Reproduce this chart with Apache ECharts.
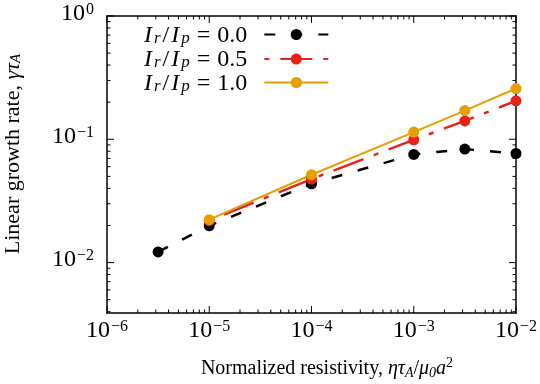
<!DOCTYPE html>
<html>
<head>
<meta charset="utf-8">
<script src="https://cdn.jsdelivr.net/npm/echarts@6/dist/echarts.min.js"></script>
<style>
  html, body { margin: 0; padding: 0; background: #fff; }
  #main { width: 540px; height: 384px; }
</style>
</head>
<body>
<div id="main"></div>
<script>
// resistivity values (x) and growth rates (y)
var etaR00 = [3.16e-6, 1e-5, 1e-4, 1e-3, 3.16e-3, 1e-2];
var gammaR00 = [0.0122, 0.0199, 0.0436, 0.0753, 0.0833, 0.0767];

var etaR05 = [1e-5, 1e-4, 1e-3, 3.16e-3, 1e-2];
var gammaR05 = [0.0219, 0.0476, 0.099, 0.141, 0.205];

var etaR10 = [1e-5, 1e-4, 1e-3, 3.16e-3, 1e-2];
var gammaR10 = [0.0223, 0.0516, 0.1144, 0.171, 0.258];

var ratios = ['0.0', '0.5', '1.0'];
var colors = ['#000000', '#e8221b', '#e69f00'];

// decades shown on the axes (exponents of 10)
var xDecades = [-6, -5, -4, -3, -2];
var yDecades = [-2, -1, 0];
var xMin = 1e-6, xMax = 1e-2;
var yMin = 0.0039, yMax = 1;

// both axes are logarithmic: positions are log10 of the values
var lg = function (v) { return Math.log10(v); };

// minor ticks 2..9 x 10^n, in log space
function minorTicks(lo, hi) {
    var out = [];
    for (var n = -7; n <= 1; n++) {
        for (var k = 2; k <= 9; k++) {
            var v = k * Math.pow(10, n);
            if (v > lo && v < hi) out.push(lg(v));
        }
    }
    return out;
}

function pairs(xs, ys) {
    var d = [];
    for (var i = 0; i < xs.length; i++) d.push([lg(xs[i]), lg(ys[i])]);
    return d;
}

var xMinor = minorTicks(xMin, xMax);
var yMinor = minorTicks(yMin, yMax);

// tick rows for the mirrored inside ticks: [x, y, length]
var xTickData = [], yTickData = [];
xDecades.forEach(function (v) { xTickData.push([v, lg(yMin), 7]); });
xMinor.forEach(function (v) { xTickData.push([v, lg(yMin), 3.5]); });
yDecades.forEach(function (v) { yTickData.push([lg(xMin), v, 7]); });
yMinor.forEach(function (v) { yTickData.push([lg(xMin), v, 3.5]); });

var FONT = 'Liberation Serif';

function powLabel(v) {
    var e = Math.round(v);
    var s = e < 0 ? '\u2212' + (-e) : '' + e;
    return '{b|10}{s|' + s + '}';
}
var powRich = {
    b: { fontFamily: FONT, fontSize: 24, lineHeight: 24, verticalAlign: 'bottom', color: '#000' },
    s: { fontFamily: FONT, fontSize: 16, lineHeight: 16, verticalAlign: 'top', padding: [0, 0, 13, 1], color: '#000' }
};

var blackLine = { color: '#000', width: 1.5 };

function logAxis(pos, labelOpt) {
    var vertical = pos === 'left' || pos === 'right';
    return {
        type: 'value',
        position: pos,
        min: vertical ? lg(yMin) : lg(xMin),
        max: vertical ? lg(yMax) : lg(xMax),
        axisLine: { show: true, onZero: false, lineStyle: blackLine },
        axisTick: { show: false },
        axisLabel: labelOpt || { show: false },
        splitLine: { show: false }
    };
}

var xLabelOpt = {
    show: true, customValues: xDecades, margin: 6,
    formatter: powLabel, rich: powRich
};
var yLabelOpt = {
    show: true, customValues: yDecades, margin: 13,
    formatter: powLabel, rich: powRich, padding: [0, 0, 5, 0]
};

var legendRich = {
    i: { fontFamily: FONT, fontSize: 24, fontStyle: 'italic', lineHeight: 22, verticalAlign: 'top', padding: [0, 2, 0, 0], color: '#000' },
    n: { fontFamily: FONT, fontSize: 24, lineHeight: 22, verticalAlign: 'top', color: '#000' },
    sl: { fontFamily: FONT, fontSize: 24, lineHeight: 22, verticalAlign: 'top', padding: [0, 2, 0, 2], color: '#000' },
    eq: { fontFamily: FONT, fontSize: 24, lineHeight: 22, verticalAlign: 'top', padding: [0, 7, 0, 7], color: '#000' },
    sub: { fontFamily: FONT, fontSize: 17, fontStyle: 'italic', lineHeight: 14, padding: [8, 0, 0, 0], color: '#000' },
    g: { width: 12 }
};

var seriesNames = ratios.map(function (r) { return 'Ir/Ip = ' + r; });
var legendTops = [22, 46.5, 70];

function legendFor(i) {
    return {
        orient: 'vertical',
        left: 144,
        top: legendTops[i],
        padding: 0,
        align: 'right',
        itemWidth: 64,
        itemHeight: 14,
        selectedMode: false,
        data: [seriesNames[i]],
        formatter: function (name) {
            var r = name.split('= ')[1];
            return '{i|I}{sub|r}{sl|/}{i|I}{sub|p}{eq|=}{n|' + r + '}{g|}';
        },
        textStyle: { rich: legendRich }
    };
}

function tickLine(x1, y1, x2, y2) {
    return { type: 'line', shape: { x1: x1, y1: y1, x2: x2, y2: y2 }, style: { stroke: '#000', lineWidth: 1 } };
}

var dom = document.getElementById('main');
var myChart = echarts.init(dom);

var option = {
    backgroundColor: '#fff',
    animation: false,
    grid: { left: 107, right: 23, top: 16, bottom: 71 },
    legend: [legendFor(0), legendFor(1), legendFor(2)],
    xAxis: [
        logAxis('bottom', xLabelOpt),
        logAxis('top')
    ],
    yAxis: [
        logAxis('left', yLabelOpt),
        logAxis('right')
    ],
    graphic: [
        {
            type: 'text',
            x: 327, y: 369,
            style: {
                text: '{n|Normalized resistivity, }{m|\u03b7\u03c4}{sub|A}{n|/}{m|\u03bc}{sub|0}{m|a}{sup|2}',
                align: 'center',
                verticalAlign: 'middle',
                rich: {
                    n: { fontFamily: FONT, fontSize: 20, lineHeight: 30, fill: '#000' },
                    m: { fontFamily: FONT, fontSize: 20, fontStyle: 'italic', lineHeight: 30, fill: '#000' },
                    sub: { fontFamily: FONT, fontSize: 14, fontStyle: 'italic', lineHeight: 14, verticalAlign: 'bottom', padding: [0, 0, 4, 0], fill: '#000' },
                    sup: { fontFamily: FONT, fontSize: 14, lineHeight: 14, verticalAlign: 'top', padding: [2, 0, 0, 0], fill: '#000' }
                }
            }
        },
        {
            type: 'text',
            x: 13, y: 154,
            rotation: Math.PI / 2,
            style: {
                text: '{n|Linear growth rate, }{m|\u03b3\u03c4}{sub|A}',
                align: 'center',
                verticalAlign: 'middle',
                rich: {
                    n: { fontFamily: FONT, fontSize: 22, lineHeight: 30, fill: '#000' },
                    m: { fontFamily: FONT, fontSize: 22, fontStyle: 'italic', lineHeight: 30, fill: '#000' },
                    sub: { fontFamily: FONT, fontSize: 15, fontStyle: 'italic', lineHeight: 15, verticalAlign: 'bottom', padding: [0, 0, 4, 0], fill: '#000' }
                }
            }
        }
    ],
    series: [
        {
            name: seriesNames[0],
            type: 'line',
            data: pairs(etaR00, gammaR00),
            symbol: 'circle',
            symbolSize: 11,
            itemStyle: { color: colors[0] },
            lineStyle: { color: colors[0], width: 2.5, type: [11, 16] }
        },
        {
            name: seriesNames[1],
            type: 'line',
            data: pairs(etaR05, gammaR05),
            symbol: 'circle',
            symbolSize: 11,
            itemStyle: { color: colors[1] },
            lineStyle: { color: colors[1], width: 2.5, type: [32, 11, 5, 11], dashOffset: 43 }
        },
        {
            name: seriesNames[2],
            type: 'line',
            data: pairs(etaR10, gammaR10),
            symbol: 'circle',
            symbolSize: 11,
            itemStyle: { color: colors[2] },
            lineStyle: { color: colors[2], width: 2 }
        },
        {
            // ticks on bottom and top edges, placed through the x scale
            type: 'custom',
            name: 'xTicks',
            silent: true,
            clip: false,
            data: xTickData,
            renderItem: function (params, api) {
                var cs = params.coordSys;
                var x = api.coord([api.value(0), api.value(1)])[0];
                var len = api.value(2);
                return {
                    type: 'group',
                    children: [
                        tickLine(x, cs.y + cs.height, x, cs.y + cs.height - len),
                        tickLine(x, cs.y, x, cs.y + len)
                    ]
                };
            }
        },
        {
            // ticks on left and right edges, placed through the y scale
            type: 'custom',
            name: 'yTicks',
            silent: true,
            clip: false,
            data: yTickData,
            renderItem: function (params, api) {
                var cs = params.coordSys;
                var y = api.coord([api.value(0), api.value(1)])[1];
                var len = api.value(2);
                return {
                    type: 'group',
                    children: [
                        tickLine(cs.x, y, cs.x + len, y),
                        tickLine(cs.x + cs.width, y, cs.x + cs.width - len, y)
                    ]
                };
            }
        }
    ]
};

myChart.setOption(option);
</script>
</body>
</html>
